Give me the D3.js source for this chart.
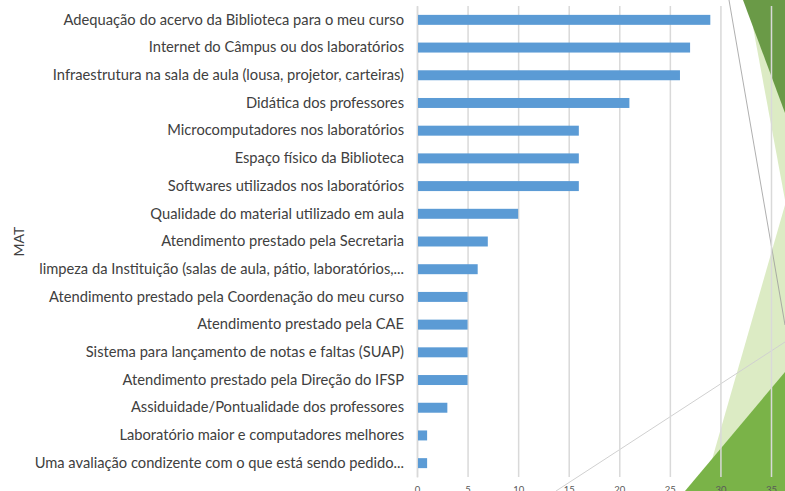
<!DOCTYPE html>
<html>
<head>
<meta charset="utf-8">
<script src="https://cdn.jsdelivr.net/npm/d3@7"></script>
<style>
  body { margin: 0; background: #fff; }
  svg { display: block; font-family: Lato, 'Open Sans', sans-serif; }
</style>
</head>
<body>
<svg width="785" height="491"></svg>
<script>
const categories = [
  'Adequação do acervo da Biblioteca para o meu curso',
  'Internet do Câmpus ou dos laboratórios',
  'Infraestrutura na sala de aula (lousa, projetor, carteiras)',
  'Didática dos professores',
  'Microcomputadores nos laboratórios',
  'Espaço físico da Biblioteca',
  'Softwares utilizados nos laboratórios',
  'Qualidade do material utilizado em aula',
  'Atendimento prestado pela Secretaria',
  'limpeza da Instituição (salas de aula, pátio, laboratórios,...',
  'Atendimento prestado pela Coordenação do meu curso',
  'Atendimento prestado pela CAE',
  'Sistema para lançamento de notas e faltas (SUAP)',
  'Atendimento prestado pela Direção do IFSP',
  'Assiduidade/Pontualidade dos professores',
  'Laboratório maior e computadores melhores',
  'Uma avaliação condizente com o que está sendo pedido...'
];
const values = [29, 27, 26, 21, 16, 16, 16, 10, 7, 6, 5, 5, 5, 5, 3, 1, 1];
const xTicks = [0, 5, 10, 15, 20, 25, 30, 35];
const yAxisLabel = 'MAT';

const svg = d3.select('svg');
const width = +svg.attr('width');
const height = +svg.attr('height');

const margin = { top: 6, right: 14, bottom: 14, left: 417 };
const innerWidth = width - margin.left - margin.right;
const innerHeight = height - margin.top - margin.bottom;

// slide background decoration
const deco = svg.append('g');
deco.append('polygon').attr('points', '748,0 785,200 785,0').attr('fill', '#dcebc4');
deco.append('polygon').attr('points', '743,0 785,113 785,0').attr('fill', '#6a9a47');
deco.append('polygon').attr('points', '785,205 785,491 703,491').attr('fill', '#dcebc4');
deco.append('polygon').attr('points', '785,372 785,491 685,491').attr('fill', '#7ab348');
deco.append('line').attr('x1', 729).attr('y1', 0).attr('x2', 785).attr('y2', 325)
  .attr('stroke', '#9a9a9a').attr('stroke-width', 0.8);
deco.append('line').attr('x1', 556).attr('y1', 491).attr('x2', 785).attr('y2', 342)
  .attr('stroke', '#d0d0d0').attr('stroke-width', 1);

const xScale = d3.scaleLinear()
  .domain([0, 35])
  .range([0, innerWidth]);

const yScale = d3.scaleBand()
  .domain(categories)
  .range([0, innerHeight])
  .paddingInner(0.64)
  .paddingOuter(0.32);

const g = svg.append('g')
  .attr('transform', `translate(${margin.left},${margin.top})`);

const xAxis = d3.axisBottom(xScale)
  .tickValues(xTicks)
  .tickSize(-innerHeight)
  .tickPadding(9);

const xAxisG = g.append('g')
  .attr('transform', `translate(0,${innerHeight})`)
  .call(xAxis);
xAxisG.select('.domain').remove();
xAxisG.selectAll('.tick line').attr('stroke', '#d9d9d9').attr('stroke-width', 1.5);
xAxisG.selectAll('.tick text')
  .attr('fill', '#595959')
  .style('font-size', '9.5px')
  .style('font-family', 'Lato, sans-serif');

const yAxis = d3.axisLeft(yScale)
  .tickSize(0)
  .tickPadding(13);

const yAxisG = g.append('g').call(yAxis);
yAxisG.select('.domain').attr('stroke', '#d9d9d9').attr('stroke-width', 1.5);
yAxisG.selectAll('.tick text')
  .attr('fill', '#404040')
  .style('font-size', '14.7px')
  .style('font-family', 'Lato, sans-serif');

g.selectAll('.bar')
  .data(values)
  .enter().append('rect')
  .attr('class', 'bar')
  .attr('x', 1)
  .attr('y', (d, i) => yScale(categories[i]))
  .attr('width', d => xScale(d) - 1)
  .attr('height', yScale.bandwidth())
  .attr('fill', '#5b9bd5');

svg.append('text')
  .attr('transform', `translate(24,${margin.top + innerHeight / 2}) rotate(-90)`)
  .attr('text-anchor', 'middle')
  .attr('fill', '#404040')
  .style('font-size', '14px')
  .style('font-family', 'Lato, sans-serif')
  .text(yAxisLabel);
</script>
</body>
</html>
